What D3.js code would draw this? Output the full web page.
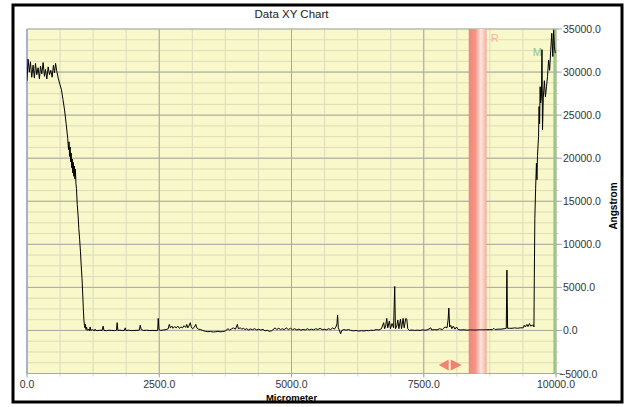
<!DOCTYPE html>
<html>
<head>
    <meta charset="utf-8" />
    <title>Data XY Chart</title>
    <style>
        body { margin: 0; background: #fff; }
        text { font-family: Arial, "Liberation Sans", sans-serif; }
    </style>
</head>
<body>
<script src="https://d3js.org/d3.v7.min.js"></script>
<script>
    var title = "Data XY Chart";
    var xLabel = "Micrometer";
    var yLabel = "Angstrom";

    var xTicks = [0, 2500, 5000, 7500, 10000];
    var yTicks = [-5000, 0, 5000, 10000, 15000, 20000, 25000, 30000, 35000];

    // cursor bands
    var rBand = [8350, 8690];
    var mBand = [9950, 10010];

    var micrometer = [
        0, 20, 45, 65, 90, 115, 140, 160, 185, 210, 235, 255, 280, 305, 330, 350, 375, 400, 425, 450,
        475, 500, 520, 540, 560, 590, 620,
        650, 680, 710, 740, 770, 785, 795, 805, 815, 825, 835, 845, 855, 865, 875, 885, 895, 905, 915, 925,
        935, 950, 965, 980, 995, 1010, 1025, 1040, 1055, 1065, 1075, 1085, 1095, 1105, 1115, 1125, 1140, 1160, 1180, 1193,
        1205, 1240, 1270, 1288, 1300, 1340, 1380, 1420, 1439, 1455, 1500, 1550, 1600, 1650, 1690, 1704, 1718, 1760, 1800, 1840,
        1856, 1870, 1920, 1970, 2020, 2080, 2125, 2140, 2160, 2200, 2260, 2320, 2380, 2440, 2470, 2481, 2495, 2530, 2580, 2630,
        2670, 2690, 2710, 2740, 2760, 2790, 2820, 2850, 2880, 2910, 2940, 2970, 3000, 3020, 3040, 3060, 3087, 3105, 3130, 3160,
        3190, 3210, 3240, 3280, 3320, 3371, 3420, 3470, 3520, 3570, 3610, 3650, 3700, 3740, 3780, 3800, 3830, 3860, 3900, 3940,
        3977, 3995, 4030, 4060, 4090, 4120, 4150, 4190, 4220, 4260, 4300, 4340, 4380, 4420, 4460, 4500, 4540, 4580, 4620, 4650,
        4690, 4720, 4760, 4792, 4830, 4860, 4900, 4940, 4980, 5020, 5060, 5100, 5140, 5180, 5220, 5260, 5300, 5340, 5380, 5420,
        5460, 5500, 5540, 5580, 5620, 5660, 5700, 5740, 5780, 5810, 5840, 5860, 5871, 5885, 5900, 5928, 5950, 5990, 6030, 6080,
        6120, 6170, 6220, 6270, 6320, 6370, 6420, 6460, 6500, 6550, 6600, 6650, 6700, 6742, 6760, 6780, 6800, 6820, 6850, 6870,
        6900, 6930, 6951, 6965, 6990, 7010, 7030, 7060, 7080, 7110, 7130, 7160, 7180, 7197, 7230, 7280, 7330, 7380, 7430, 7480,
        7530, 7580, 7633, 7650, 7700, 7750, 7800, 7850, 7900, 7940, 7960, 7974, 7990, 8010, 8030, 8060, 8090, 8120, 8150, 8200,
        8260, 8320, 8380, 8440, 8500, 8560, 8620, 8680, 8740, 8800, 8826, 8850, 8900, 8960, 9020, 9060, 9072, 9085, 9120, 9170,
        9220, 9270, 9320, 9380, 9400, 9420, 9450, 9470, 9500, 9520, 9550, 9575, 9583, 9590, 9600, 9615, 9630, 9640, 9650, 9670,
        9680, 9690, 9700, 9710, 9725, 9735, 9745, 9760, 9780, 9800, 9820, 9840, 9860, 9880, 9900, 9920, 9940, 9955, 9970, 9985
    ];

    var angstrom = [
        29000, 31500, 30000, 31200, 29400, 30800, 29300, 31000, 29700, 30500, 29200, 30700, 29800, 31100, 29500, 30300, 29200, 30600, 29700, 30200,
        29400, 30800, 29900, 31000, 30200, 29300, 28600,
        28000, 26800, 25600, 24000, 22300, 21000, 21900, 20200, 21300, 19600, 20600, 18900, 19900, 18300, 19500, 17900, 19100, 17600, 18700, 17100,
        16500, 14600, 13400, 11800, 10600, 9200, 7500, 6000, 4000, 2500, 1300, 600, 300, 700, 100, 400, 0, 150, -50, 400,
        0, 100, -50, 150, 0, -20, 30, 0, 500, 0, -30, 20, 0, -20, 0, 900, 0, 30, -10, 0,
        300, 0, 20, -20, 0, 10, 50, 600, 100, 0, 20, -10, 0, -20, 0, 1400, 100, 0, 50, 100,
        200, 700, 300, 500, 250, 450, 300, 500, 250, 400, 300, 550, 350, 700, 300, 500, 900, 400, 200, 350,
        700, 300, 150, 100, 0, -100, -150, -120, -180, -150, -100, -160, -130, -90, 100, 200, 50, 150, 300, 150,
        700, 200, 300, 150, 250, 100, 200, 50, 180, 80, 200, 60, 150, 40, 120, -50, 20, -100, -50, 80,
        300, 100, 250, 100, 200, 80, 300, 100, 250, 80, 200, 50, 150, 30, 120, 50, 200, 60, 150, 70,
        200, 100, 250, 80, 150, 60, 200, 100, 300, 150, 400, 800, 1800, 300, 100, -400, 0, 100, 30, 100,
        0, -50, 0, -80, -30, -60, 0, -40, 30, 0, 100, 50, 200, 900, 200, 500, 1400, 300, 1100, 200,
        800, 300, 5100, 200, 500, 1200, 200, 1300, 200, 1400, 300, 1400, 1300, 200, 0, 50, 0, 30, 0, 80,
        20, 100, 300, 50, 100, 60, 200, 100, 400, 300, 1200, 2600, 400, 600, 200, 500, 150, 400, 100, 50,
        80, 30, 60, 40, 50, 70, 60, 80, 100, 100, 250, 100, 150, 150, 200, 250, 7000, 250, 250, 250,
        300, 250, 300, 300, 600, 400, 700, 450, 800, 500, 600, 600, 400, 6000, 13000, 16500, 19400, 17500, 20300, 22500,
        26000, 24000, 28300, 26400, 27200, 32600, 23300, 27000, 29000, 27100, 28300, 29500, 31400, 30200, 32500, 34500, 31800, 34900, 33000, 32200
    ];

    var data = micrometer.map((d, i) => [d, angstrom[i]]);

    var width = 625;
    var height = 407;
    var plot = {"left": 27, "right": 556, "top": 29, "bottom": 373.5};

    var svg = d3.select("body").append("svg")
                .attr("width", width)
                .attr("height", height);

    var x = d3.scaleLinear().domain([0, 10000]).range([plot.left, plot.right]);
    var y = d3.scaleLinear().domain([-5000, 35000]).range([plot.bottom, plot.top]);

    var defs = svg.append("defs");
    defs.append("clipPath").attr("id", "clip")
        .append("rect")
        .attr("x", plot.left).attr("y", plot.top)
        .attr("width", plot.right - plot.left)
        .attr("height", plot.bottom - plot.top);

    var grad = defs.append("linearGradient").attr("id", "rgrad")
                   .attr("x1", "0%").attr("x2", "100%").attr("y1", "0%").attr("y2", "0%");
    grad.append("stop").attr("offset", "0%").attr("stop-color", "#f08676");
    grad.append("stop").attr("offset", "38%").attr("stop-color", "#f3978a");
    grad.append("stop").attr("offset", "68%").attr("stop-color", "#fde6dc");
    grad.append("stop").attr("offset", "100%").attr("stop-color", "#f5ab9c");

    // frame
    svg.append("rect")
       .attr("x", 13).attr("y", 5)
       .attr("width", 609).attr("height", 397)
       .attr("fill", "#fff")
       .attr("stroke", "#000")
       .attr("stroke-width", 3);

    svg.append("rect")
       .attr("x", plot.left).attr("y", plot.top)
       .attr("width", plot.right - plot.left)
       .attr("height", plot.bottom - plot.top)
       .attr("fill", "#f8f8cb");

    // minor grid
    var xMinor = d3.range(0, 10001, 625);
    var yMinor = d3.range(-5000, 35001, 1250);

    var grid = svg.append("g");
    grid.selectAll(".vmin").data(xMinor).enter().append("line")
        .attr("x1", d => x(d)).attr("x2", d => x(d))
        .attr("y1", plot.top).attr("y2", plot.bottom + 3)
        .attr("stroke", "#dcdcb8").attr("stroke-width", 1);
    grid.selectAll(".hmin").data(yMinor).enter().append("line")
        .attr("x1", plot.left).attr("x2", plot.right + 3)
        .attr("y1", d => y(d)).attr("y2", d => y(d))
        .attr("stroke", "#dcdcb8").attr("stroke-width", 1);

    grid.selectAll(".vmaj").data(xTicks).enter().append("line")
        .attr("x1", d => x(d)).attr("x2", d => x(d))
        .attr("y1", plot.top).attr("y2", plot.bottom + 4)
        .attr("stroke", "#a9a9a0").attr("stroke-width", 1);
    grid.selectAll(".hmaj").data(yTicks).enter().append("line")
        .attr("x1", plot.left).attr("x2", plot.right + 6)
        .attr("y1", d => y(d)).attr("y2", d => y(d))
        .attr("stroke", "#a9a9a0").attr("stroke-width", 1);

    svg.append("line")
       .attr("x1", plot.left).attr("x2", plot.left)
       .attr("y1", plot.top).attr("y2", plot.bottom)
       .attr("stroke", "#9aa8d8").attr("stroke-width", 1.5);

    // R band
    svg.append("rect")
       .attr("x", x(rBand[0])).attr("y", plot.top)
       .attr("width", x(rBand[1]) - x(rBand[0]))
       .attr("height", plot.bottom - plot.top)
       .attr("fill", "url(#rgrad)");

    svg.append("text")
       .attr("x", x(rBand[1]) + 4).attr("y", 42)
       .attr("font-size", 11)
       .attr("fill", "#f4b4a4")
       .text("R");

    // M band
    svg.append("rect")
       .attr("x", x(mBand[0])).attr("y", plot.top)
       .attr("width", x(mBand[1]) - x(mBand[0]))
       .attr("height", plot.bottom - plot.top)
       .attr("clip-path", "url(#clip)")
       .attr("fill", "#94cc84");

    svg.append("text")
       .attr("x", 542).attr("y", 56)
       .attr("text-anchor", "end")
       .attr("font-size", 11)
       .attr("fill", "#8cc48c")
       .text("M");

    // arrows under R band
    var ay = 365;
    var ax = x(rBand[0]) - 19;
    svg.append("path")
       .attr("d", "M" + (ax - 11) + "," + ay + "L" + (ax - 1) + "," + (ay - 5.5) + "L" + (ax - 1) + "," + (ay + 5.5) + "Z")
       .attr("fill", "#f08272");
    svg.append("path")
       .attr("d", "M" + (ax + 12) + "," + ay + "L" + (ax + 1) + "," + (ay - 5.5) + "L" + (ax + 1) + "," + (ay + 5.5) + "Z")
       .attr("fill", "#f08272");

    var line = d3.line()
                 .x(d => x(d[0]))
                 .y(d => y(d[1]));

    svg.append("path")
       .datum(data)
       .attr("clip-path", "url(#clip)")
       .attr("d", line)
       .attr("fill", "none")
       .attr("stroke", "#000")
       .attr("stroke-width", 1)
       .attr("stroke-linejoin", "round");

    // axes labels
    var fmt = d3.format(".1f");
    svg.append("g").selectAll("text").data(xTicks).enter().append("text")
       .attr("x", d => x(d)).attr("y", 388)
       .attr("text-anchor", "middle")
       .attr("font-size", 10.5)
       .attr("fill", "#333")
       .text(d => fmt(d));

    svg.append("g").selectAll("text").data(yTicks).enter().append("text")
       .attr("x", d => d < 0 ? 559 : 563).attr("y", d => y(d) + 4)
       .attr("font-size", 10.5)
       .attr("fill", "#333")
       .text(d => fmt(d));

    svg.append("text")
       .attr("x", (plot.left + plot.right) / 2).attr("y", 18)
       .attr("text-anchor", "middle")
       .attr("font-size", 11.5)
       .attr("fill", "#222")
       .text(title);

    svg.append("text")
       .attr("x", (plot.left + plot.right) / 2).attr("y", 401)
       .attr("text-anchor", "middle")
       .attr("font-size", 9.5)
       .attr("font-weight", "bold")
       .attr("fill", "#000")
       .text(xLabel);

    svg.append("text")
       .attr("transform", "translate(617,206) rotate(-90)")
       .attr("text-anchor", "middle")
       .attr("font-size", 10)
       .attr("font-weight", "bold")
       .attr("fill", "#000")
       .text(yLabel);
</script>
</body>
</html>
